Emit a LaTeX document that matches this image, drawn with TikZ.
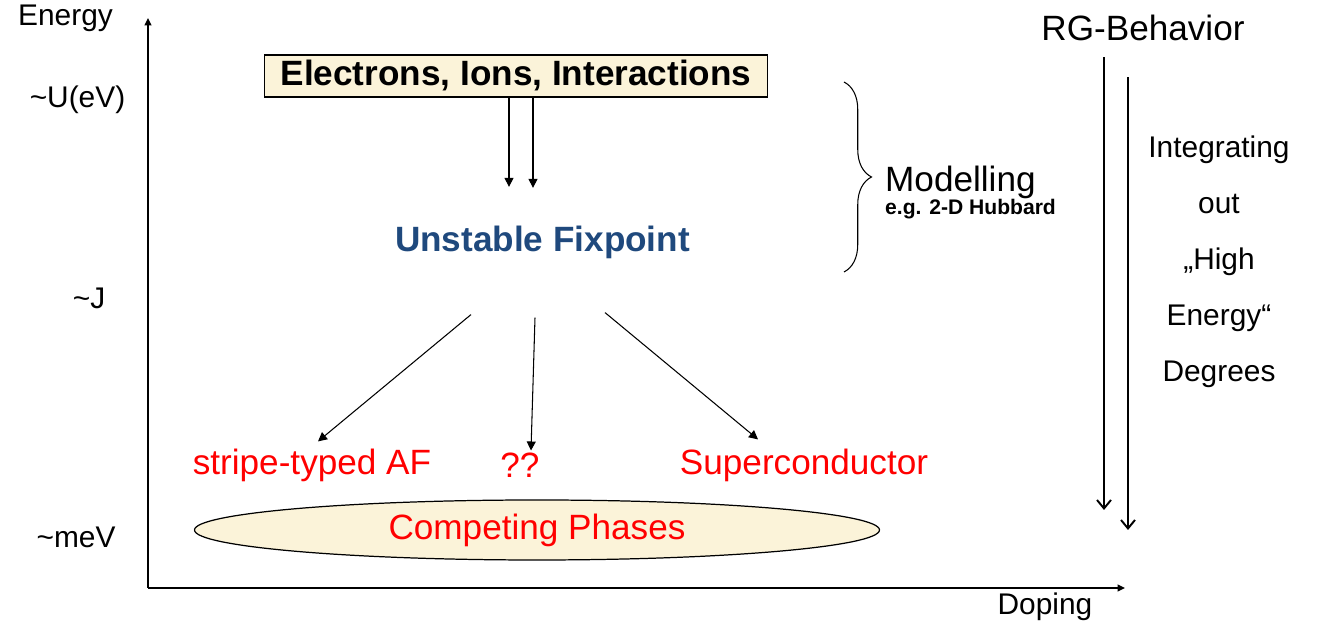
\documentclass[tikz,border=0pt]{standalone}
\usepackage{fontspec}
\setmainfont{Liberation Sans}
\usepackage{tikz,xcolor}
\usetikzlibrary{positioning,shapes.geometric,arrows.meta,decorations.pathreplacing}
\definecolor{fixblue}{HTML}{1F497D}
\definecolor{cream}{HTML}{FBF3D9}

\begin{document}
\begin{tikzpicture}[
		ax/.style={font=\fontsize{17}{20}\selectfont},
		big/.style={font=\fontsize{20}{24}\selectfont},
		bigbf/.style={font=\fontsize{20}{24}\selectfont\bfseries},
		phase/.style={big, text=red},
		arr/.style={-{Triangle[length=0.18cm,width=0.18cm]}, line width=0.6pt},
		rg/.style={-{Straight Barb[length=0.17cm,width=0.28cm]}, line width=1.1pt}]
		\useasboundingbox (0,0) rectangle (26.34,12.48);
		% axes
		\coordinate (o) at (2.96,0.72);
		\coordinate (ytop) at (2.96,12.12);
		\coordinate (xend) at (22.5,0.72);
		\draw[line width=0.8pt,-{Triangle[length=0.15cm,width=0.14cm]}] (o) -- (ytop);
		\draw[line width=0.8pt,-{Triangle[length=0.15cm,width=0.14cm]}] (o) -- (xend);
		\node[ax] (energy) at (1.31,12.12) {Energy};
		\node[ax] (uev) at (1.55,10.48) {\textasciitilde U(eV)};
		\node[ax] (jlev) at (1.78,6.52) {\textasciitilde J};
		\node[ax] (mev) at (1.52,1.74) {\textasciitilde meV};
		\node[ax] (doping) at (20.9,0.34) {Doping};
		% model
		\node[bigbf, draw, fill=cream, line width=1pt, inner ysep=0.05cm, minimum width=10.06cm, minimum height=0.84cm] (eli) at (10.32,10.96) {Electrons, Ions, Interactions};
		\node[bigbf, text=fixblue] (fix) at (10.85,7.64) {Unstable Fixpoint};
		\draw[arr] ([xshift=-0.14cm]eli.south) -- ++(0,-1.78);
		\draw[arr] ([xshift=0.34cm]eli.south) -- ++(0,-1.8);
		% phases
		\node[phase] (af) at (6.24,3.18) {stripe-typed AF};
		\node[phase] (qq) at (10.4,3.18) {??};
		\node[phase] (sc) at (16.08,3.18) {Superconductor};
		\node[phase, ellipse, draw=black, fill=cream, line width=0.7pt, minimum width=13.7cm, minimum height=1.2cm, inner sep=0pt] (comp) at (10.74,1.88) {Competing Phases};
		\draw[arr] ([shift={(-1.43,-1.0)}]fix.south) -- ([shift={(0.12,0.02)}]af.north);
		\draw[arr] ([shift={(-0.15,-1.06)}]fix.south) -- ([shift={(0.22,-0.08)}]qq.north);
		\draw[arr] ([shift={(1.25,-0.96)}]fix.south) -- ([shift={(-0.92,0.06)}]sc.north);
		% modelling brace
		\coordinate (brtop) at (16.88,10.84);
		\coordinate (brbot) at (16.88,7.04);
		\draw[decorate, decoration={brace, amplitude=0.55cm}, line width=0.6pt] (brtop) -- (brbot);
		\node[big, anchor=west] (model) at (17.58,8.84) {Modelling};
		\node[font=\fontsize{12}{14}\selectfont\bfseries, anchor=west] (hub) at (17.58,8.3) {e.g. 2-D Hubbard};
		% RG side
		\node[big] (rgb) at (22.86,11.92) {RG-Behavior};
		\coordinate (rg1) at (22.08,2.28);
		\coordinate (rg2) at (22.56,1.88);
		\draw[rg] ([yshift=-0.2cm]rgb.south -| rg1) -- (rg1);
		\draw[rg] ([yshift=-0.6cm]rgb.south -| rg2) -- (rg2);
		\node[align=center, font=\fontsize{17}{31.9}\selectfont] (integ) at (24.38,7.24) {Integrating\\out\\„High\\Energy“\\Degrees};
	\end{tikzpicture}
\end{document}
